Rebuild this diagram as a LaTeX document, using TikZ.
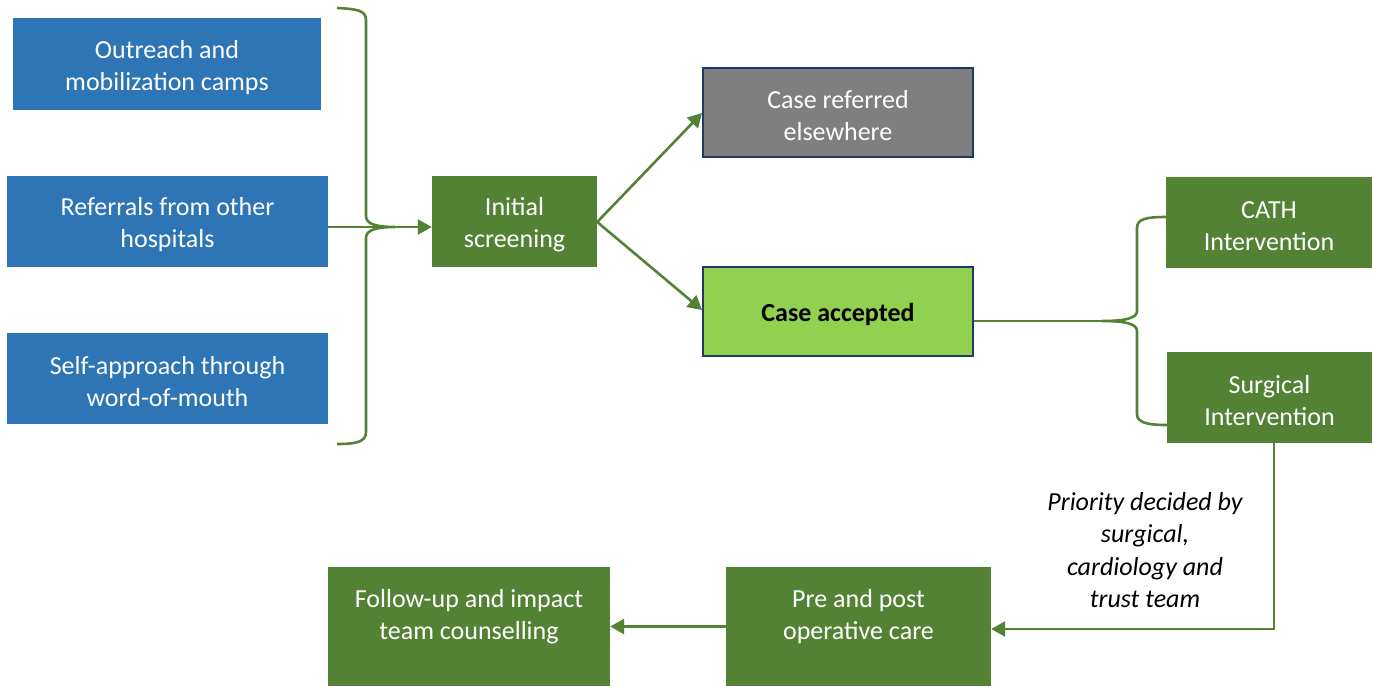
\documentclass[tikz,border=0pt]{standalone}
\usepackage{fontspec}
\setmainfont{Carlito}
\usetikzlibrary{arrows.meta}
\definecolor{cblue}{HTML}{2E75B6}
\definecolor{cgreen}{HTML}{548235}
\definecolor{cgray}{HTML}{7F7F7F}
\definecolor{clight}{HTML}{92D050}
\definecolor{cnavy}{HTML}{1F3864}
\newcommand{\topstrut}{\rule{0pt}{24.5pt}}
\tikzset{
  base/.style={rectangle, inner sep=0pt, align=center, font=\fontsize{26}{32}\selectfont},
  bbox/.style={base, fill=cblue, text=white},
  gbox/.style={base, fill=cgreen, text=white},
  nbox/.style={base, draw=cnavy, line width=2pt},
  conn/.style={draw=cgreen, line width=2.6pt},
  arr/.style={conn, -{Triangle[length=14pt,width=15pt]}},
  note/.style={base, font=\fontsize{26}{32.5}\selectfont\itshape, text=black}
}
\begin{document}
\begin{tikzpicture}[x=1pt,y=-1pt]
\useasboundingbox (0,0) rectangle (1373,686);
\node[bbox, minimum width=308, minimum height=92] (out) at (167,64) {\topstrut Outreach and\\mobilization camps};
\node[bbox, minimum width=321, minimum height=91] (ref) at (167.5,221.5) {\topstrut Referrals from other\\hospitals};
\node[bbox, minimum width=321, minimum height=91] (self) at (167.5,378.5) {\topstrut Self-approach through\\word-of-mouth};
\node[gbox, minimum width=165, minimum height=91] (init) at (514.5,221.5) {\topstrut Initial\\screening};
\node[nbox, fill=cgray, text=white, minimum width=270, minimum height=89] (else) at (838,112.5) {\topstrut Case referred\\elsewhere};
\node[nbox, fill=clight, text=black, minimum width=270, minimum height=89, font=\fontsize{26}{32}\selectfont\bfseries] (acc) at (838,311.5) {\topstrut Case accepted};
\node[gbox, minimum width=206, minimum height=91] (cath) at (1269,222.5) {\topstrut CATH\\Intervention};
\node[gbox, minimum width=205, minimum height=91] (surg) at (1269.5,397.5) {\topstrut Surgical\\Intervention};
\node[base, fill=cgreen, minimum width=265, minimum height=119] (pre) at (858.5,626.5) {};
\node[base, text=white] (pretext) at (858.5,613) {\topstrut Pre and post\\operative care};
\node[base, fill=cgreen, minimum width=282, minimum height=119] (fol) at (469,626.5) {};
\node[base, text=white] (foltext) at (469,613) {\topstrut Follow-up and impact\\team counselling};
\node[note] (prio) at (1145,550) {Priority decided by\\surgical,\\cardiology and\\trust team};
% left brace
\draw[conn] (337,8) .. controls (356,9) and (366,10) .. (366,20) -- (366,216)
  .. controls (366,224) and (376,227) .. (395,227)
  .. controls (376,227) and (366,230) .. (366,238) -- (366,432)
  .. controls (366,442) and (356,444) .. (337,444);
\draw[arr] (ref.east |- 0,227) -- (init.west |- 0,227);
% screening arrows
\draw[arr] (init.east |- 0,222) -- (else.west |- 0,113);
\draw[arr] (init.east |- 0,222) -- (acc.west |- 0,310);
% right brace
\draw[conn] (acc.east |- 0,321) -- (1102,321);
\draw[conn] (cath.west |- 0,217) .. controls (1146,217) and (1137,219) .. (1137,228) -- (1137,311)
  .. controls (1137,318) and (1126,321) .. (1102,321)
  .. controls (1126,321) and (1137,324) .. (1137,331) -- (1137,414)
  .. controls (1137,422) and (1146,425) .. (surg.west |- 0,425);
% surgical to pre
\draw[arr] ([xshift=4.5pt]surg.south) |- ([yshift=-2.5pt]pre.east);
\draw[arr] (pre.west) -- (fol.east);
\end{tikzpicture}
\end{document}
